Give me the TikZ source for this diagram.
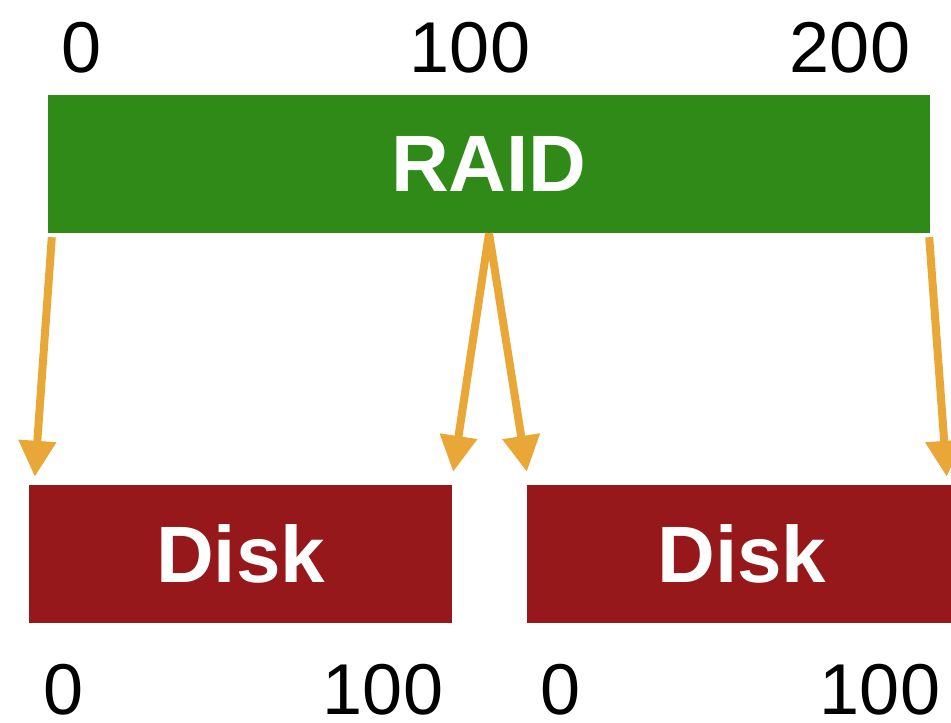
\documentclass[tikz,border=0pt]{standalone}
\usepackage{fontspec}
\setmainfont{Liberation Sans}
\usetikzlibrary{arrows.meta}
\definecolor{raidgreen}{HTML}{2F8A17}
\definecolor{diskred}{HTML}{97181A}
\definecolor{maporange}{HTML}{E8A736}
\begin{document}
\begin{tikzpicture}[x=1pt,y=-1pt,
  block/.style={fill=#1, inner sep=0pt, text=white, font=\fontsize{80}{80}\selectfont\bfseries},
  num/.style={anchor=base, inner sep=0pt, text depth=0pt, text height=52pt, font=\fontsize{72}{72}\selectfont},
  maparrow/.style={draw=maporange, line width=8pt, -{Triangle[width=36pt,length=36pt]}, maporange}]
\useasboundingbox (0,0) rectangle (951,723);
% address ranges
\node[num] (t0) at (82,72) {0};
\node[num] (t100) at (470,72) {100};
\node[num] (t200) at (850,72) {200};
\node[num] (a0) at (64,714) {0};
\node[num] (a100) at (383,714) {100};
\node[num] (b0) at (561,714) {0};
\node[num] (b100) at (880,714) {100};
% volume and disks
\node[block=raidgreen, minimum width=882pt, minimum height=138pt] (raid) at (489,164) {RAID};
\node[block=diskred, minimum width=423pt, minimum height=138pt] (disk1) at (240.5,554) {Disk};
\node[block=diskred, minimum width=430pt, minimum height=138pt] (disk2) at (742,554) {Disk};
% mapping
\draw[maparrow] ([xshift=4pt,yshift=-4pt]raid.south west) -- ([xshift=6pt,yshift=8pt]disk1.north west);
\draw[maparrow] (raid.south) -- ([xshift=1pt,yshift=13pt]disk1.north east);
\draw[maparrow] (raid.south) -- ([yshift=13pt]disk2.north west);
\draw[maparrow] ([xshift=-1pt,yshift=-4pt]raid.south east) -- ([xshift=420pt,yshift=8pt]disk2.north west);
\end{tikzpicture}
\end{document}
